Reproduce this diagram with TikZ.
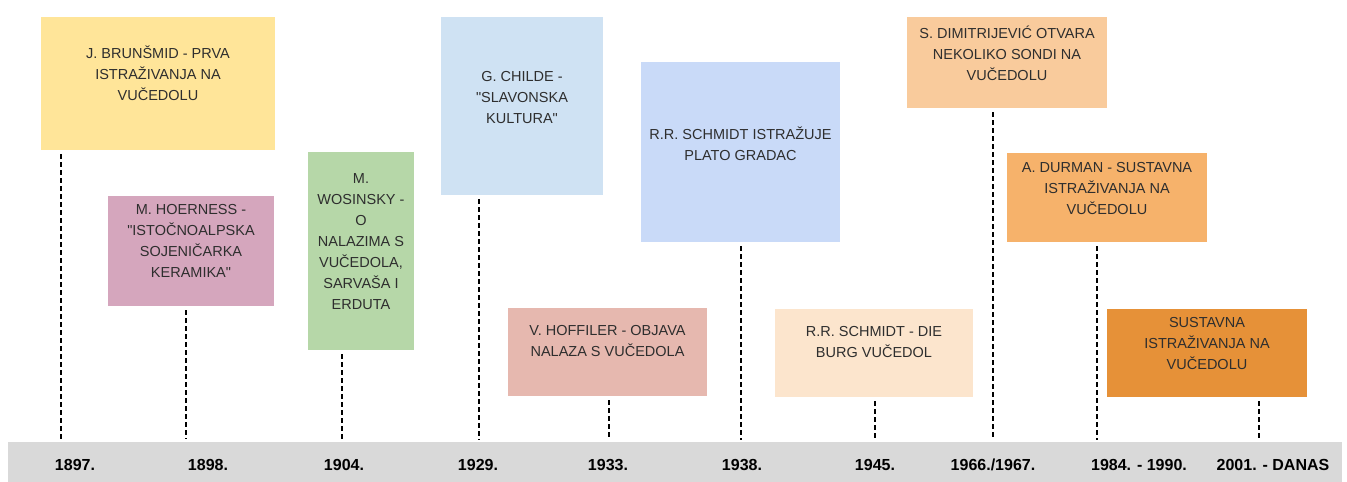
\documentclass[tikz,border=0pt]{standalone}
\usepackage{fontspec}
\setmainfont{Liberation Sans}
\definecolor{yellowbox}{HTML}{FFE599}
\definecolor{pinkbox}{HTML}{D5A6BD}
\definecolor{greenbox}{HTML}{B6D7A8}
\definecolor{paleblue}{HTML}{CFE2F3}
\definecolor{bluebox}{HTML}{C9DAF8}
\definecolor{rosebox}{HTML}{E6B8AF}
\definecolor{peachbox}{HTML}{FCE5CD}
\definecolor{apricot}{HTML}{F9CB9C}
\definecolor{orangebox}{HTML}{F6B26B}
\definecolor{darkorange}{HTML}{E69138}
\definecolor{bargray}{HTML}{D9D9D9}
\definecolor{textgray}{HTML}{2E2E2E}

\begin{document}
\begin{tikzpicture}[x=1pt,y=-1pt]
\tikzstyle{box}=[inner sep=0pt]
\tikzstyle{txt}=[align=center,inner sep=0pt,text=textgray,
  font=\fontsize{14.5}{21}\selectfont]
\tikzstyle{year}=[inner sep=0pt,font=\fontsize{16}{18}\selectfont\bfseries]
\tikzstyle{dline}=[line width=1.2pt,dash pattern=on 5pt off 3pt,shorten <=4pt]

\useasboundingbox (0,0) rectangle (1347,482);

% timeline bar
\fill[bargray] (8,442) rectangle (1342,482);

% boxes
\node[box,fill=yellowbox,minimum width=234,minimum height=133] (B1) at (158,83.5) {};
\node[txt] at ([yshift=10pt]B1.center) {J. BRUNŠMID - PRVA\\ISTRAŽIVANJA NA\\VUČEDOLU};

\node[box,fill=pinkbox,minimum width=166,minimum height=110] (B2) at (191,251) {};
\node[txt] at ([yshift=10pt]B2.center) {M. HOERNESS -\\\textquotedbl ISTOČNOALPSKA\\SOJENIČARKA\\KERAMIKA\textquotedbl};

\node[box,fill=greenbox,minimum width=106,minimum height=198] (B3) at (361,251) {};
\node[txt] at ([yshift=9pt]B3.center) {M.\\WOSINSKY -\\O\\NALAZIMA S\\VUČEDOLA,\\SARVAŠA I\\ERDUTA};

\node[box,fill=paleblue,minimum width=162,minimum height=178] (B4) at (522,106) {};
\node[txt] at ([yshift=8pt]B4.center) {G. CHILDE -\\\textquotedbl SLAVONSKA\\KULTURA\textquotedbl};

\node[box,fill=bluebox,minimum width=199,minimum height=180] (B5) at (740.5,152) {};
\node[txt] at ([yshift=8pt]B5.center) {R.R. SCHMIDT ISTRAŽUJE\\PLATO GRADAC};

\node[box,fill=rosebox,minimum width=199,minimum height=88] (B6) at (607.5,352) {};
\node[txt] at ([yshift=11pt]B6.center) {V. HOFFILER - OBJAVA\\NALAZA S VUČEDOLA};

\node[box,fill=peachbox,minimum width=198,minimum height=88] (B7) at (874,353) {};
\node[txt] at ([yshift=11pt]B7.center) {R.R. SCHMIDT - DIE\\BURG VUČEDOL};

\node[box,fill=apricot,minimum width=200,minimum height=91] (B8) at (1007,62.5) {};
\node[txt] at ([yshift=9pt]B8.center) {S. DIMITRIJEVIĆ OTVARA\\NEKOLIKO SONDI NA\\VUČEDOLU};

\node[box,fill=orangebox,minimum width=200,minimum height=89] (B9) at (1107,197.5) {};
\node[txt] at ([yshift=9pt]B9.center) {A. DURMAN - SUSTAVNA\\ISTRAŽIVANJA NA\\VUČEDOLU};

\node[box,fill=darkorange,minimum width=200,minimum height=88] (B10) at (1207,353) {};
\node[txt] at ([yshift=9pt]B10.center) {SUSTAVNA\\ISTRAŽIVANJA NA\\VUČEDOLU};

% years
\node[year] (Y1) at (75,465) {1897.};
\node[year] (Y2) at (208,465) {1898.};
\node[year] (Y3) at (344,465) {1904.};
\node[year] (Y4) at (478,465) {1929.};
\node[year] (Y5) at (608,465) {1933.};
\node[year] (Y6) at (742,465) {1938.};
\node[year] (Y7) at (875,465) {1945.};
\node[year] (Y8) at (993,465) {1966./1967.};
\node[year] (Y9) at (1139,465) {1984. - 1990.};
\node[year] (Y10) at (1273,465) {2001. - DANAS};

% line ends on the bar
\coordinate (T1) at (61,439);
\coordinate (T2) at (186,439);
\coordinate (T3) at (342,440);
\coordinate (T4) at (479,440);
\coordinate (T5) at (609,440);
\coordinate (T6) at (741,440);
\coordinate (T7) at (875,440);
\coordinate (T8) at (993,440);
\coordinate (T9) at (1097,440);
\coordinate (T10) at (1259,440);

\draw[dline] (B1.south -| T1) -- (T1);
\draw[dline] (B2.south -| T2) -- (T2);
\draw[dline] (B3.south -| T3) -- (T3);
\draw[dline] (B4.south -| T4) -- (T4);
\draw[dline] (B6.south -| T5) -- (T5);
\draw[dline] (B5.south -| T6) -- (T6);
\draw[dline] (B7.south -| T7) -- (T7);
\draw[dline] (B8.south -| T8) -- (T8);
\draw[dline] (B9.south -| T9) -- (T9);
\draw[dline] (B10.south -| T10) -- (T10);

\end{tikzpicture}
\end{document}
